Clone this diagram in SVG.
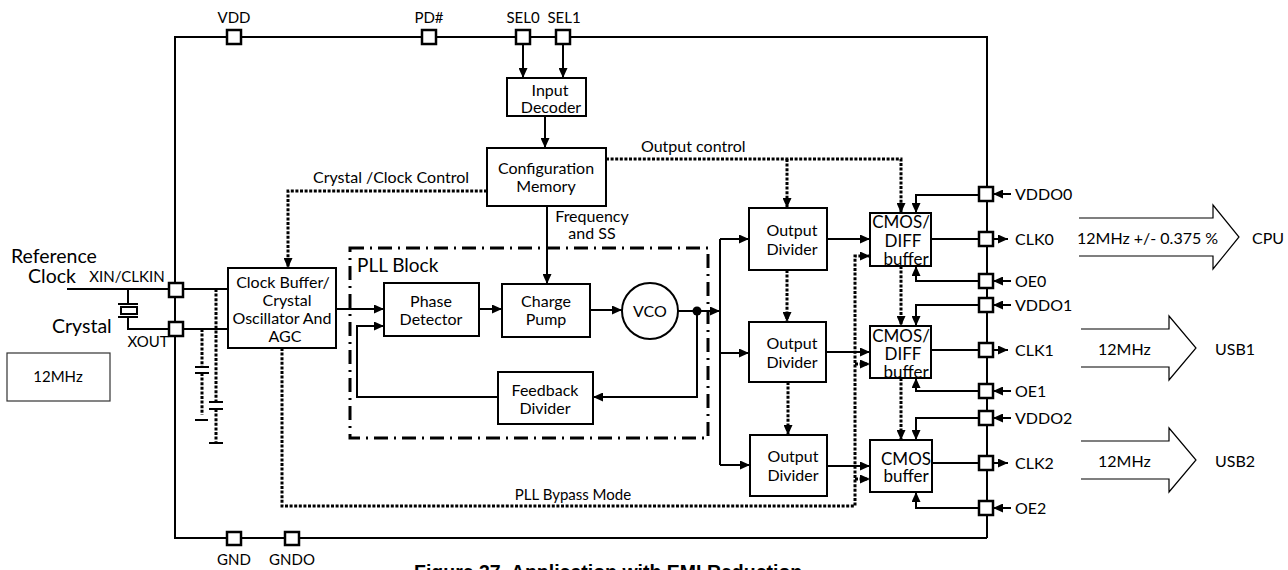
<svg xmlns="http://www.w3.org/2000/svg" width="1288" height="570" viewBox="0 0 1288 570">
<defs>
<marker id="a" markerUnits="userSpaceOnUse" markerWidth="10" markerHeight="9" refX="10" refY="4.5" orient="auto"><path d="M0,0 L10,4.5 L0,9 z" fill="#000"/></marker>
<style>
text{font-family:Lato,"Liberation Sans",sans-serif;fill:#000}
.bx{fill:#fff;stroke:#000;stroke-width:2}
.pin{fill:#fff;stroke:#000;stroke-width:2.5}
.ln{fill:none;stroke:#000;stroke-width:2}
.dt{fill:none;stroke:#000;stroke-width:3;stroke-dasharray:3 1.6}
.t16{font-size:16px;text-anchor:middle}
.t17{font-size:17px;text-anchor:middle}
.lbl{font-size:15px;text-anchor:middle}
.pl{font-size:16px}
.big{font-size:19.5px}
.ba{fill:none;stroke:#000;stroke-width:1.2}
</style>
</defs>
<rect width="1288" height="570" fill="#fff"/>

<g id="chip-outline">
<path class="ln" d="M987,538 V37 H175 V538 H987"/>
</g>

<g id="connectors">
<path class="ln" d="M523,44 V78" marker-end="url(#a)"/>
<path class="ln" d="M563,44 V78" marker-end="url(#a)"/>
<path class="ln" d="M545,116 V148" marker-end="url(#a)"/>
<path class="ln" d="M547,206 V284" marker-end="url(#a)"/>
<path class="ln" d="M336,309 H384" marker-end="url(#a)"/>
<path class="ln" d="M479,309 H502" marker-end="url(#a)"/>
<path class="ln" d="M590,310 H622" marker-end="url(#a)"/>
<path class="ln" d="M678,311 H720" marker-end="url(#a)"/>
<path class="ln" d="M720,239 V465"/>
<path class="ln" d="M720,239 H749" marker-end="url(#a)"/>
<path class="ln" d="M720,353 H749" marker-end="url(#a)"/>
<path class="ln" d="M720,465 H750" marker-end="url(#a)"/>
<path class="ln" d="M697,311 V397 H593" marker-end="url(#a)"/>
<path class="ln" d="M498,397 H357 V326 H384" marker-end="url(#a)"/>
<path class="ln" d="M827,239 H870" marker-end="url(#a)"/>
<path class="ln" d="M826,352 H870" marker-end="url(#a)"/>
<path class="ln" d="M827,466 H870" marker-end="url(#a)"/>
<path class="ln" d="M931,239 H979"/>
<path class="ln" d="M931,350 H979"/>
<path class="ln" d="M932,463 H979"/>
<path class="ln" d="M979,195 H916 V213" marker-end="url(#a)"/>
<path class="ln" d="M979,281 H916 V266" marker-end="url(#a)"/>
<path class="ln" d="M979,305 H916 V326" marker-end="url(#a)"/>
<path class="ln" d="M979,391 H916 V378" marker-end="url(#a)"/>
<path class="ln" d="M979,418 H916 V440" marker-end="url(#a)"/>
<path class="ln" d="M979,508 H916 V492" marker-end="url(#a)"/>
<path class="ln" d="M1011,194 H993" marker-end="url(#a)"/>
<path class="ln" d="M993,239 H1008" marker-end="url(#a)"/>
<path class="ln" d="M1011,281 H993" marker-end="url(#a)"/>
<path class="ln" d="M1011,305 H993" marker-end="url(#a)"/>
<path class="ln" d="M993,350 H1008" marker-end="url(#a)"/>
<path class="ln" d="M1011,391 H993" marker-end="url(#a)"/>
<path class="ln" d="M1011,418 H993" marker-end="url(#a)"/>
<path class="ln" d="M993,463 H1008" marker-end="url(#a)"/>
<path class="ln" d="M1011,508 H993" marker-end="url(#a)"/>
<path class="ln" d="M67,289 H169"/>
<path class="ln" d="M183,289 H228"/>
<path class="ln" d="M183,329 H228"/>
<path class="ln" d="M128,289 V304 M118,304 H138 M128,317 V329 H169 M118,317 H138"/>
<rect x="121" y="307" width="16" height="7" class="ln"/>
<path class="dt" d="M487,191 H288 V268" marker-end="url(#a)"/>
<path class="dt" d="M606,159 H901 V213" marker-end="url(#a)"/>
<path class="dt" d="M787,159 V208" marker-end="url(#a)"/>
<path class="dt" d="M787,270 V322" marker-end="url(#a)"/>
<path class="dt" d="M788,382 V435" marker-end="url(#a)"/>
<path class="dt" d="M901,266 V326" marker-end="url(#a)"/>
<path class="dt" d="M901,378 V440" marker-end="url(#a)"/>
<path class="dt" d="M282,348 V506 H855 V256 H870" marker-end="url(#a)"/>
<path class="dt" d="M855,364 H870" marker-end="url(#a)"/>
<path class="dt" d="M855,479 H870" marker-end="url(#a)"/>
<path class="dt" d="M216,289 V402 M216,409 V443"/>
<path class="dt" d="M202,329 V367 M202,373 V415"/>
<path class="ln" d="M209,402 H223 M209,409 H223 M209,443 H223 M195,367 H209 M195,373 H209 M195,420 H208"/>
<circle cx="697" cy="311" r="4.5" fill="#000"/>
</g>

<g id="pins">
<rect class="pin" x="227" y="30" width="14" height="14"/>
<rect class="pin" x="422" y="30" width="14" height="14"/>
<rect class="pin" x="516" y="30" width="14" height="14"/>
<rect class="pin" x="556" y="30" width="14" height="14"/>
<rect class="pin" x="169" y="283" width="14" height="14"/>
<rect class="pin" x="169" y="322" width="14" height="14"/>
<rect class="pin" x="227" y="532" width="14" height="13"/>
<rect class="pin" x="285" y="532" width="14" height="13"/>
<rect class="pin" x="979" y="187" width="14" height="14"/>
<rect class="pin" x="979" y="232" width="14" height="14"/>
<rect class="pin" x="979" y="274" width="14" height="14"/>
<rect class="pin" x="979" y="298" width="14" height="14"/>
<rect class="pin" x="979" y="343" width="14" height="14"/>
<rect class="pin" x="979" y="384" width="14" height="14"/>
<rect class="pin" x="979" y="411" width="14" height="14"/>
<rect class="pin" x="979" y="456" width="14" height="14"/>
<rect class="pin" x="979" y="501" width="14" height="14"/>
<text class="lbl" x="234" y="23">VDD</text>
<text class="lbl" x="429" y="23">PD#</text>
<text class="lbl" x="523" y="23">SEL0</text>
<text class="lbl" x="564" y="23">SEL1</text>
<text class="lbl" x="127" y="282">XIN/CLKIN</text>
<text class="lbl" x="148" y="347">XOUT</text>
<text class="lbl" x="234" y="565">GND</text>
<text class="lbl" x="292" y="565">GNDO</text>
<text class="pl" x="1015" y="200">VDDO0</text>
<text class="pl" x="1015" y="245">CLK0</text>
<text class="pl" x="1015" y="287">OE0</text>
<text class="pl" x="1015" y="311">VDDO1</text>
<text class="pl" x="1015" y="356">CLK1</text>
<text class="pl" x="1015" y="397">OE1</text>
<text class="pl" x="1015" y="424">VDDO2</text>
<text class="pl" x="1015" y="469">CLK2</text>
<text class="pl" x="1015" y="514">OE2</text>
</g>

<g id="input-decoder">
<rect class="bx" x="507" y="78" width="79" height="38"/>
<text class="t16" x="550" y="96">Input</text>
<text class="t16" x="551" y="113">Decoder</text>
</g>

<g id="config-memory">
<rect class="bx" x="487" y="148" width="119" height="58"/>
<text class="t16" x="546" y="174">Configuration</text>
<text class="t16" x="546" y="192">Memory</text>
</g>

<g id="clock-buffer">
<rect class="bx" x="228" y="268" width="108" height="80"/>
<text class="t16" x="283" y="288">Clock Buffer/</text>
<text class="t16" x="287" y="306">Crystal</text>
<text class="t16" x="282" y="324">Oscillator And</text>
<text class="t16" x="285" y="342">AGC</text>
</g>

<g id="pll-block">
<rect x="350" y="248" width="358" height="190" fill="none" stroke="#000" stroke-width="3" stroke-dasharray="14 6 2 6"/>
<text x="357" y="272" style="font-size:19px">PLL Block</text>
</g>

<g id="phase-detector">
<rect class="bx" x="384" y="283" width="95" height="53"/>
<text class="t16" x="431" y="307">Phase</text>
<text class="t16" x="431" y="325">Detector</text>
</g>

<g id="charge-pump">
<rect class="bx" x="502" y="284" width="88" height="53"/>
<text class="t16" x="546" y="307">Charge</text>
<text class="t16" x="546" y="325">Pump</text>
</g>

<g id="vco">
<circle cx="650" cy="311" r="28" class="bx"/>
<text class="t16" x="650" y="317">VCO</text>
</g>

<g id="feedback-divider">
<rect class="bx" x="498" y="372" width="95" height="52"/>
<text class="t16" x="545" y="396">Feedback</text>
<text class="t16" x="545" y="414">Divider</text>
</g>

<g id="output-divider-0">
<rect class="bx" x="749" y="208" width="78" height="62"/>
<text class="t16" x="792" y="236">Output</text>
<text class="t16" x="792" y="255">Divider</text>
</g>
<g id="output-divider-1">
<rect class="bx" x="749" y="322" width="77" height="60"/>
<text class="t16" x="792" y="349">Output</text>
<text class="t16" x="792" y="368">Divider</text>
</g>
<g id="output-divider-2">
<rect class="bx" x="750" y="435" width="77" height="61"/>
<text class="t16" x="793" y="462">Output</text>
<text class="t16" x="793" y="481">Divider</text>
</g>

<g id="buffer-0">
<rect class="bx" x="870" y="213" width="61" height="53"/>
<text class="t17" x="901" y="228">CMOS/</text>
<text class="t17" x="903" y="247">DIFF</text>
<text class="t17" x="906" y="265">buffer</text>
</g>
<g id="buffer-1">
<rect class="bx" x="870" y="326" width="61" height="52"/>
<text class="t17" x="901" y="342">CMOS/</text>
<text class="t17" x="903" y="360">DIFF</text>
<text class="t17" x="906" y="378">buffer</text>
</g>
<g id="buffer-2">
<rect class="bx" x="870" y="440" width="62" height="52"/>
<text class="t17" x="906" y="465">CMOS</text>
<text class="t17" x="906" y="482">buffer</text>
</g>

<g id="labels">
<text class="pl" x="641" y="152">Output control</text>
<text class="pl" x="313" y="183">Crystal /Clock Control</text>
<text class="t16" x="592" y="222">Frequency</text>
<text class="t16" x="592" y="239">and SS</text>
<text class="lbl" x="573" y="500">PLL Bypass Mode</text>
<text class="big" x="11" y="263">Reference</text>
<text class="big" x="28" y="283">Clock</text>
<text class="big" x="52" y="333">Crystal</text>
</g>

<g id="ref-12mhz">
<rect x="7" y="353" width="103" height="48" fill="#fff" stroke="#333" stroke-width="1.2"/>
<text class="lbl" x="58" y="382">12MHz</text>
</g>

<g id="out-cpu">
<path class="ba" d="M1079,218 H1213 V205 L1239,237 L1213,269 V256 H1079"/>
<text class="pl" x="1077" y="244">12MHz +/- 0.375 %</text>
<text class="pl" x="1252" y="244">CPU</text>
</g>
<g id="out-usb1">
<path class="ba" d="M1081,329 H1169 V316 L1196,348 L1169,380 V367 H1081"/>
<text class="pl" x="1098" y="355">12MHz</text>
<text class="pl" x="1215" y="355">USB1</text>
</g>
<g id="out-usb2">
<path class="ba" d="M1081,441 H1169 V428 L1196,460 L1169,492 V479 H1081"/>
<text class="pl" x="1098" y="467">12MHz</text>
<text class="pl" x="1215" y="467">USB2</text>
</g>

<text x="414" y="579" style="font-family:'Liberation Sans',Arial,sans-serif;font-size:19.5px;font-weight:bold">Figure 37. Application with EMI Reduction</text>
</svg>
